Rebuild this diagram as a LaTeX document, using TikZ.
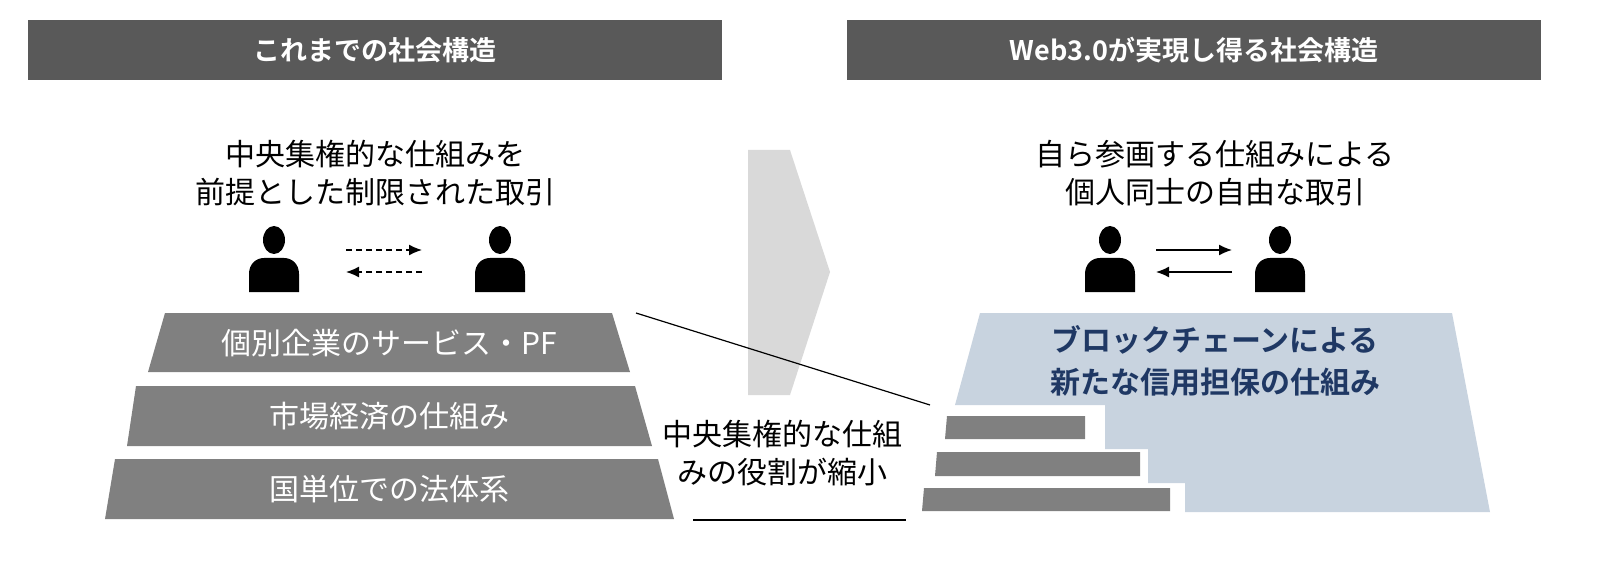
\documentclass[tikz,border=0pt]{standalone}
\usepackage{fontspec}
\usetikzlibrary{arrows.meta}
\newfontfamily\jp{Noto Sans CJK JP}
\newfontfamily\jpb{Noto Sans CJK JP Bold}
\definecolor{hdgray}{RGB}{89,89,89}
\definecolor{bandgray}{RGB}{128,128,128}
\definecolor{chevgray}{RGB}{217,217,217}
\definecolor{chainblue}{RGB}{200,211,223}
\definecolor{chaintext}{RGB}{31,56,100}
\tikzset{
  header/.style={fill=hdgray, text=white, font=\jpb\fontsize{27}{32}\selectfont, minimum width=694pt, minimum height=60pt, inner sep=0pt},
  caption/.style={align=center, font=\jp\fontsize{30}{38}\selectfont},
  bandtext/.style={text=white, font=\jp\fontsize{30}{34}\selectfont},
  deal/.style={line width=1.5pt, -{Latex[length=13pt,width=11pt]}},
  person/.pic={
    \fill (0,12) ellipse (11 and 14);
    \fill (-25,-40) -- (-25,-22) .. controls (-25,-12) and (-18,-6) .. (-10,-6) -- (10,-6) .. controls (18,-6) and (25,-12) .. (25,-22) -- (25,-40) -- cycle;
  }
}
\begin{document}
\begin{tikzpicture}[x=1pt,y=1pt,yscale=-1]
\useasboundingbox (0,0) rectangle (1600,561);

% headers
\node[header] (hleft) at (375,50) {これまでの社会構造};
\node[header] (hright) at (1194,50) {Web3.0が実現し得る社会構造};

% captions
\node[caption] (capleft) at (375,173) {中央集権的な仕組みを\\前提とした制限された取引};
\node[caption] (capright) at (1215,173) {自ら参画する仕組みによる\\個人同士の自由な取引};

% people
\pic at (274,252) {person};
\pic at (500,252) {person};
\pic at (1110,252) {person};
\pic at (1280,252) {person};
\coordinate (la1) at (346,250);
\coordinate (la2) at (422,250);
\coordinate (la3) at (422,272);
\coordinate (la4) at (346,272);
\draw[deal, dash pattern=on 6pt off 4pt] (la1) -- (la2);
\draw[deal, dash pattern=on 6pt off 4pt] (la3) -- (la4);
\coordinate (ra1) at (1156,250);
\coordinate (ra2) at (1232,250);
\coordinate (ra3) at (1232,272);
\coordinate (ra4) at (1156,272);
\draw[deal] (ra1) -- (ra2);
\draw[deal] (ra3) -- (ra4);

% left pyramid
\fill[bandgray] (165,313) -- (612,313) -- (630,372) -- (148,372) -- cycle;
\fill[bandgray] (136,386) -- (635,386) -- (652,446) -- (127,446) -- cycle;
\fill[bandgray] (115,459) -- (658,459) -- (674,519) -- (105,519) -- cycle;
\node[bandtext] (band1) at (389,343) {個別企業のサービス・PF};
\node[bandtext] (band2) at (389,416) {市場経済の仕組み};
\node[bandtext] (band3) at (389,489) {国単位での法体系};

% chevron
\fill[chevgray] (748,150) -- (790,150) -- (830,272) -- (790,395) -- (748,395) -- cycle;

% right structure
\fill[chainblue] (980,313) -- (1452,313) -- (1490,512) -- (1185,512) -- (1185,483) -- (1148,483) -- (1148,449) -- (1105,449) -- (1105,405) -- (955,405) -- cycle;
\fill[bandgray] (947,416) -- (1085,416) -- (1085,439) -- (945,439) -- cycle;
\fill[bandgray] (937,452) -- (1140,452) -- (1140,476) -- (935,476) -- cycle;
\fill[bandgray] (924,488) -- (1170,488) -- (1170,511) -- (922,511) -- cycle;
\node[caption, text=chaintext, font=\jpb\fontsize{30}{42}\selectfont] (chain) at (1215,361) {ブロックチェーンによる\\新たな信用担保の仕組み};

% shrinking note
\coordinate (sl1) at (636,313);
\coordinate (sl2) at (930,405);
\draw[line width=1.2pt] (sl1) -- (sl2);
\node[caption] (shrink) at (782,453) {中央集権的な仕組\\みの役割が縮小};
\coordinate (ul1) at (693,520);
\coordinate (ul2) at (906,520);
\draw[line width=1.2pt] (ul1) -- (ul2);
\end{tikzpicture}
\end{document}
